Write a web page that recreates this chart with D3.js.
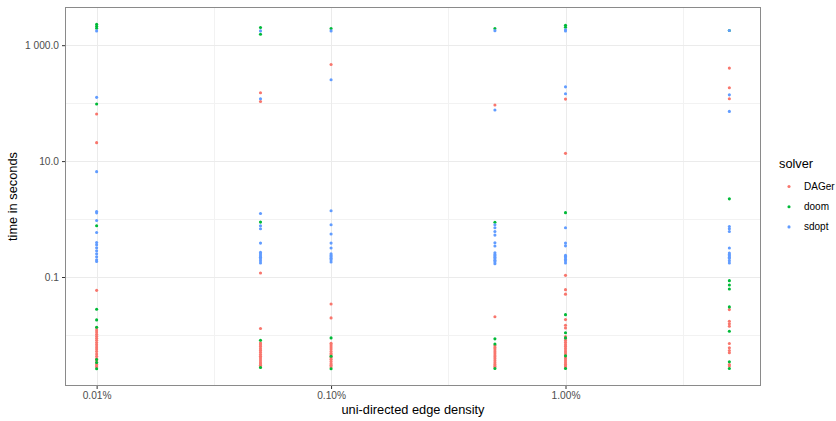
<!DOCTYPE html>
<html><head><meta charset="utf-8">
<script src="https://cdn.jsdelivr.net/npm/d3@7"></script>
<style>body{margin:0;background:#fff}svg{display:block;font-family:"Liberation Sans",Arial,Helvetica,sans-serif}</style>
</head><body><svg id="c" width="836" height="421"></svg>
<script>
const densities = [0.0001, 0.0005, 0.001, 0.005, 0.01, 0.05];
const solvers = ["DAGer", "doom", "sdopt"];
const colors = ["#F8766D", "#00BA38", "#619CFF"];
const xTicks = [0.0001, 0.001, 0.01];
const xTickLabels = ["0.01%", "0.10%", "1.00%"];
const xMinor = [0.000316, 0.00316, 0.0316];
const yTicks = [0.1, 10, 1000];
const yTickLabels = ["0.1", "10.0", "1 000.0"];
const yMinor = [0.01, 1, 100];

const dagerTimes = [
  [64.9, 20.8, 0.0589, 0.0134, 0.0122, 0.0112, 0.0103, 0.0095, 0.0088, 0.0081, 0.0074, 0.0068, 0.0062, 0.0057, 0.0052, 0.0047, 0.0043, 0.0039, 0.0036, 0.0033, 0.0031, 0.0029, 0.0028],
  [151, 107, 0.117, 0.0129, 0.0073, 0.0068, 0.0063, 0.0058, 0.0054, 0.005, 0.0046, 0.0043, 0.004, 0.0037, 0.0034, 0.0032, 0.003, 0.0028],
  [465, 0.0343, 0.0197, 0.0072, 0.0067, 0.0062, 0.0057, 0.0052, 0.0048, 0.0045, 0.0041, 0.0038, 0.0035, 0.0032, 0.003, 0.0028],
  [92.6, 0.0206, 0.0066, 0.0061, 0.0057, 0.0053, 0.0049, 0.0045, 0.0042, 0.0039, 0.0036, 0.0033, 0.0031, 0.0029, 0.0028],
  [117.5, 13.6, 0.1067, 0.0605, 0.0506, 0.0184, 0.0147, 0.0132, 0.0094, 0.0087, 0.008, 0.0074, 0.0068, 0.0063, 0.0058, 0.0053, 0.0049, 0.0045, 0.0042, 0.0039, 0.0036, 0.0033, 0.0031, 0.0029, 0.0028],
  [402, 184, 119, 0.0274, 0.0172, 0.0156, 0.0141, 0.00711, 0.006, 0.0054, 0.00492, 0.00309, 0.0029]
];
const doomTimes = [
  [2299, 2123, 1963, 96.4, 0.765, 0.0277, 0.0182, 0.0136, 0.00377, 0.00335, 0.00261],
  [2018, 1545, 0.886, 0.00811, 0.00275],
  [1941, 0.0089, 0.0043, 0.00261],
  [1941, 0.879, 0.00857, 0.00697, 0.00264],
  [2208, 2042, 1.29, 0.0224, 0.0109, 0.0089, 0.00436, 0.00264],
  [1790, 2.23, 0.0865, 0.0729, 0.0622, 0.0305, 0.0116, 0.00344, 0.00264]
];
const sdoptTimes = [
  [1762, 125.8, 6.58, 1.35, 1.28, 0.944, 0.587, 0.394, 0.36, 0.32, 0.284, 0.252, 0.224, 0.199, 0.186],
  [1762, 119, 1.25, 0.765, 0.68, 0.385, 0.266, 0.25, 0.233, 0.22, 0.207, 0.19, 0.174],
  [1762, 253, 1.39, 0.796, 0.551, 0.385, 0.316, 0.252, 0.236, 0.224, 0.21, 0.199, 0.182],
  [1780, 76, 0.796, 0.706, 0.61, 0.529, 0.389, 0.342, 0.261, 0.245, 0.233, 0.22, 0.207, 0.195, 0.184, 0.17],
  [1848, 1762, 191, 145, 0.706, 0.385, 0.345, 0.236, 0.225, 0.214, 0.2, 0.19, 0.174],
  [1790, 139, 72, 0.745, 0.68, 0.61, 0.316, 0.259, 0.245, 0.233, 0.22, 0.209, 0.19, 0.174]
];

const series = [dagerTimes, doomTimes, sdoptTimes];
const points = [];
series.forEach((s, si) => s.forEach((vals, di) => vals.forEach(v => points.push({solver: si, x: densities[di], y: v}))));

const svg = d3.select("#c");
const L = 65, R = 761, T = 7, B = 386;

function expandedLog(ext) {
  const a = Math.log10(ext[0]), b = Math.log10(ext[1]), e = (b - a) * 0.05;
  return [Math.pow(10, a - e), Math.pow(10, b + e)];
}
const x = d3.scaleLog().domain(expandedLog(d3.extent(points, d => d.x))).range([L, R]);
const y = d3.scaleLog().domain(expandedLog(d3.extent(points, d => d.y))).range([B, T]);

// panel background + grids
const g = svg.append("g");
g.append("rect").attr("x", L).attr("y", T).attr("width", R - L).attr("height", B - T).attr("fill", "#fff");
g.selectAll(".xm").data(xMinor).join("line").attr("x1", d => Math.round(x(d)) + 0.5).attr("x2", d => Math.round(x(d)) + 0.5).attr("y1", T).attr("y2", B).attr("stroke", "#F2F2F2").attr("stroke-width", 1);
g.selectAll(".ym").data(yMinor).join("line").attr("y1", d => Math.round(y(d)) + 0.5).attr("y2", d => Math.round(y(d)) + 0.5).attr("x1", L).attr("x2", R).attr("stroke", "#F2F2F2").attr("stroke-width", 1);
g.selectAll(".xM").data(xTicks).join("line").attr("x1", d => Math.round(x(d)) + 0.5).attr("x2", d => Math.round(x(d)) + 0.5).attr("y1", T).attr("y2", B).attr("stroke", "#EBEBEB").attr("stroke-width", 1);
g.selectAll(".yM").data(yTicks).join("line").attr("y1", d => Math.round(y(d)) + 0.5).attr("y2", d => Math.round(y(d)) + 0.5).attr("x1", L).attr("x2", R).attr("stroke", "#EBEBEB").attr("stroke-width", 1);

// points
svg.append("g").selectAll("circle").data(points).join("circle")
  .attr("cx", d => x(d.x)).attr("cy", d => y(d.y)).attr("r", 1.55)
  .attr("fill", d => colors[d.solver]);

// border
svg.append("rect").attr("x", L + 0.5).attr("y", T + 0.5).attr("width", R - L - 1).attr("height", B - T - 1)
  .attr("fill", "none").attr("stroke", "#8a8a8a").attr("stroke-width", 1);

// axes
const xAxis = d3.axisBottom(x).tickValues(xTicks).tickFormat((d, i) => xTickLabels[i]).tickSize(3).tickPadding(3);
const xa = svg.append("g").attr("transform", `translate(0,${B})`).call(xAxis);
xa.select(".domain").remove();
xa.selectAll(".tick line").attr("stroke", "#333");
xa.selectAll(".tick text").attr("fill", "#4D4D4D").attr("font-size", 10.2).attr("font-family", null);

const yAxis = d3.axisLeft(y).tickValues(yTicks).tickFormat((d, i) => yTickLabels[i]).tickSize(3).tickPadding(3);
const ya = svg.append("g").attr("transform", `translate(${L},0)`).call(yAxis);
ya.select(".domain").remove();
ya.selectAll(".tick line").attr("stroke", "#333");
ya.selectAll(".tick text").attr("fill", "#4D4D4D").attr("font-size", 10.2).attr("font-family", null);

// titles
svg.append("text").attr("x", (L + R) / 2).attr("y", 414).attr("text-anchor", "middle").attr("font-size", 12.8).attr("fill", "#000").text("uni-directed edge density");
svg.append("text").attr("transform", `translate(17,${(T + B) / 2}) rotate(-90)`).attr("text-anchor", "middle").attr("font-size", 12.8).attr("fill", "#000").text("time in seconds");

// legend
const lg = svg.append("g");
lg.append("text").attr("x", 779).attr("y", 168).attr("font-size", 12.8).attr("fill", "#000").text("solver");
solvers.forEach((s, i) => {
  lg.append("circle").attr("cx", 789).attr("cy", 186.5 + i * 20.2).attr("r", 1.55).attr("fill", colors[i]);
  lg.append("text").attr("x", 804).attr("y", 190 + i * 20.2).attr("font-size", 10).attr("fill", "#000").text(s);
});
</script></body></html>
